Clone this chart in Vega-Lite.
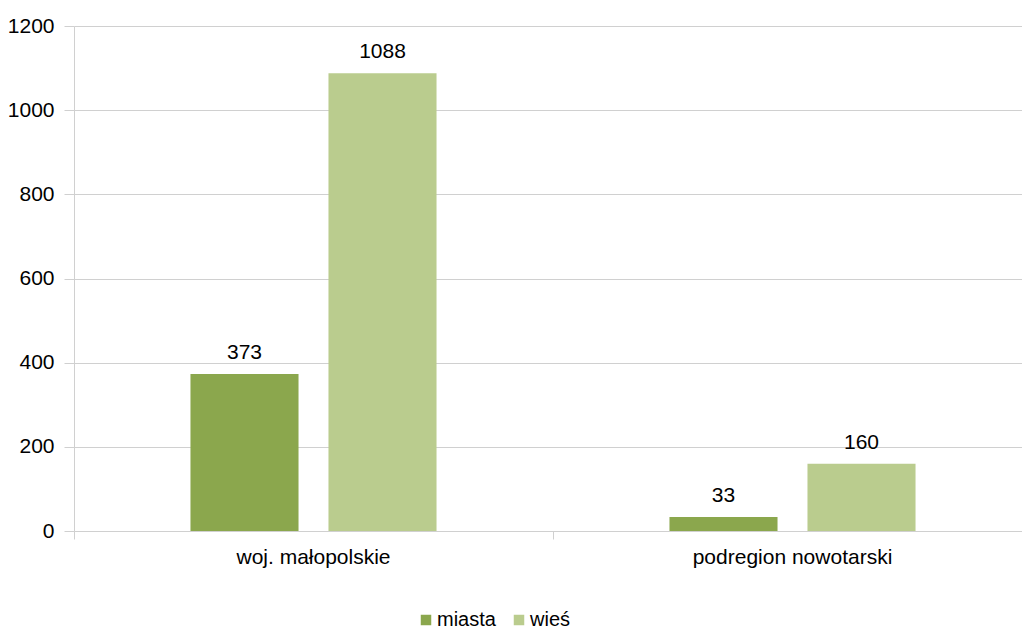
{
  "$schema": "https://vega.github.io/schema/vega-lite/v6.json",
  "autosize": {"type": "none"},
  "padding": {"left": 74, "top": 26, "right": 0, "bottom": 99},
  "width": 958,
  "height": 505,
  "background": "white",
  "config": {
    "view": {"stroke": null},
    "font": "Liberation Sans",
    "axis": {"labelFont": "Liberation Sans", "labelFontSize": 21, "labelColor": "#000000", "labelLimit": 0}
  },
  "data": {
    "values": [
      {"region": "woj. małopolskie", "typ": "miasta", "value": 373},
      {"region": "woj. małopolskie", "typ": "wieś", "value": 1088},
      {"region": "podregion nowotarski", "typ": "miasta", "value": 33},
      {"region": "podregion nowotarski", "typ": "wieś", "value": 160}
    ]
  },
  "encoding": {
    "x": {
      "field": "region", "type": "nominal", "sort": ["woj. małopolskie", "podregion nowotarski"],
      "scale": {"paddingInner": 0, "paddingOuter": 0},
      "axis": {"title": null, "labelAngle": 0, "bandPosition": 0, "ticks": true, "tickSize": 8, "tickColor": "#d0d0d0", "domainColor": "#d0d0d0", "labelPadding": 7, "grid": false, "labelLimit": 0}
    },
    "xOffset": {"field": "typ", "type": "nominal", "sort": ["miasta", "wieś"], "scale": {"paddingInner": 0.217, "paddingOuter": 0.844}},
    "y": {
      "field": "value", "type": "quantitative",
      "scale": {"domain": [0, 1200], "nice": false},
      "axis": {"title": null, "format": "d", "values": [0, 200, 400, 600, 800, 1000, 1200], "tickSize": 10, "tickColor": "#d0d0d0", "domainColor": "#d0d0d0", "gridColor": "#d0d0d0", "labelPadding": 10}
    }
  },
  "layer": [
    {
      "mark": {"type": "bar"},
      "encoding": {
        "color": {
          "field": "typ", "type": "nominal",
          "scale": {"domain": ["miasta", "wieś"], "range": ["#8BA74D", "#BACC8E"]},
          "legend": {
            "title": null, "orient": "none", "direction": "horizontal",
            "legendX": 342, "legendY": 584,
            "symbolType": "square", "symbolSize": 110, "symbolStrokeWidth": 0,
            "labelFontSize": 20, "labelFont": "Liberation Sans", "labelColor": "#000000",
            "labelOffset": 1, "columnPadding": 13
          }
        }
      }
    },
    {
      "mark": {"type": "text", "baseline": "alphabetic", "dy": -15, "fontSize": 21, "font": "Liberation Sans", "color": "#000000"},
      "encoding": {"text": {"field": "value", "type": "quantitative"}}
    }
  ]
}
